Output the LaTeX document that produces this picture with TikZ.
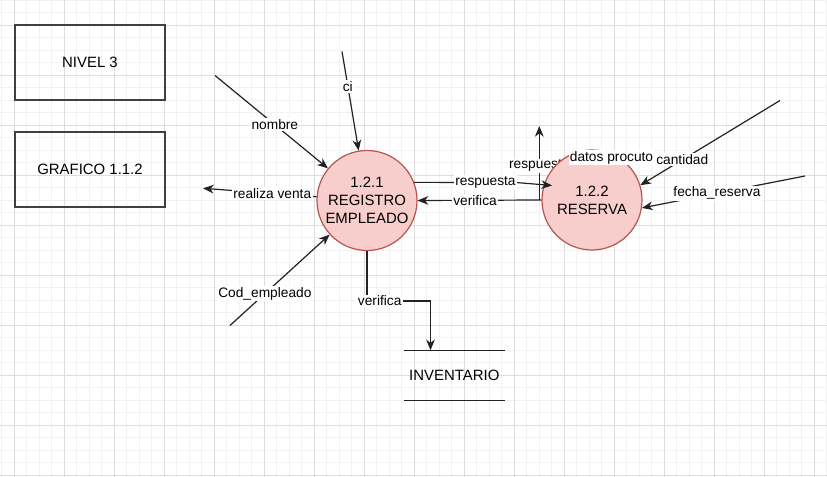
\documentclass[tikz,border=0pt]{standalone}
\usepackage{fontspec}
\setmainfont{Liberation Sans}
\usetikzlibrary{arrows.meta,calc}
\definecolor{procfill}{HTML}{F8CECC}
\definecolor{procborder}{HTML}{B85450}
\definecolor{minorc}{HTML}{F2F2F2}
\definecolor{majorc}{HTML}{DDDDDD}
\definecolor{ink}{HTML}{222222}
\pgfdeclarelayer{gridlayer}
\pgfdeclarelayer{backlayer}
\pgfsetlayers{gridlayer,backlayer,main}
\begin{document}
\begin{tikzpicture}[x=0.75pt,y=-0.75pt,
  flow/.style={draw=ink, line width=0.9pt, -{Stealth[length=8pt,width=6.5pt,inset=2.5pt]}},
  plain/.style={draw=ink, line width=0.9pt},
  lbl/.style={fill=white, inner sep=1pt, font=\fontsize{10.3pt}{12pt}\selectfont, text=black},
  proc/.style={circle, draw=procborder, fill=procfill, line width=0.9pt, minimum size=75pt, inner sep=0pt, align=center, font=\fontsize{11.2pt}{13.5pt}\selectfont},
  ent/.style={rectangle, draw=black!75, line width=0.9pt, minimum width=112.5pt, minimum height=56.25pt, font=\fontsize{11.2pt}{13.5pt}\selectfont},
  store/.style={rectangle, minimum width=75pt, minimum height=37.5pt, font=\fontsize{11.2pt}{13.5pt}\selectfont},
  minorgrid/.style={draw=minorc, line width=0.6pt},
  majorgrid/.style={draw=majorc, line width=0.6pt}
]
\useasboundingbox (0,0) rectangle (827,477);
\begin{pgfonlayer}{gridlayer}
\fill[white] (0,0) rectangle (827,477);
\foreach \i in {0,...,66} { \draw[minorgrid] ({1.8+12.5*\i},0) -- ({1.8+12.5*\i},477); }
\foreach \i in {0,...,38} { \draw[minorgrid] (0,{0.3+12.5*\i}) -- (827,{0.3+12.5*\i}); }
\foreach \i in {0,...,16} { \draw[majorgrid] ({14.3+50*\i},0) -- ({14.3+50*\i},477); }
\foreach \i in {0,...,9} { \draw[majorgrid] (0,{25.3+50*\i}) -- (827,{25.3+50*\i}); }
\end{pgfonlayer}

% entities
\node[ent] (b1) at (90,62.5) {NIVEL 3};
\node[ent] (b2) at (90,169.5) {GRAFICO 1.1.2};

% processes
\node[proc] (c1) at (367,200.5) {1.2.1\\REGISTRO\\EMPLEADO};
\node[proc] (c2) at (592,200) {1.2.2\\RESERVA};

% store
\node[store] (inv) at (454.3,375.5) {INVENTARIO};
\draw[plain, line width=0.8pt] (inv.north west) -- (inv.north east);
\draw[plain, line width=0.8pt] (inv.south west) -- (inv.south east);

% inputs to 1.2.1
\coordinate (nomS) at (215,75.5);
\draw[flow] (nomS) -- node[lbl,pos=0.53]{nombre} (c1);
\coordinate (ciS) at (342,51.5);
\draw[flow] (ciS) -- node[lbl,pos=0.35]{ci} (c1);
\coordinate (codS) at (230,325.5);
\draw[flow] (codS) -- node[lbl,pos=0.35]{Cod\_empleado} (c1);
\coordinate (rvE) at (203,188.3);
\draw[flow] (c1) -- node[lbl,pos=0.39]{realiza venta} (rvE);

% 1.2.1 to inventario
\coordinate (vk) at (430.5,301);
\draw[flow] (c1.south) |- node[lbl,pos=0.6]{verifica} (vk) -- (vk |- inv.north);

% between processes
\coordinate (rspK) at (516,182.5);
\coordinate (rspE) at (552,185.5);
\draw[flow] (c1.21) -- node[lbl,pos=0.7]{respuesta} (rspK) -- (rspE);
\draw[flow] (c2.west) -- node[lbl,pos=0.536]{verifica} (c1.east);

% respuesta up (behind the circle)
\begin{pgfonlayer}{backlayer}
\coordinate (ruS) at (539.3,200);
\coordinate (ruE) at (539.3,126);
\draw[flow] (ruS) -- node[lbl,pos=0.46]{respuesta} (ruE);
\end{pgfonlayer}

\node[lbl] (dp) at (611.5,157.5) {datos procuto};

% inputs to 1.2.2
\coordinate (canS) at (780,100.5);
\draw[flow] (canS) -- node[lbl,pos=0.70]{cantidad} (c2.17);
\coordinate (feS) at (805,176);
\draw[flow] (feS) -- node[lbl,pos=0.54]{fecha\_reserva} (c2.-9);
\end{tikzpicture}
\end{document}
